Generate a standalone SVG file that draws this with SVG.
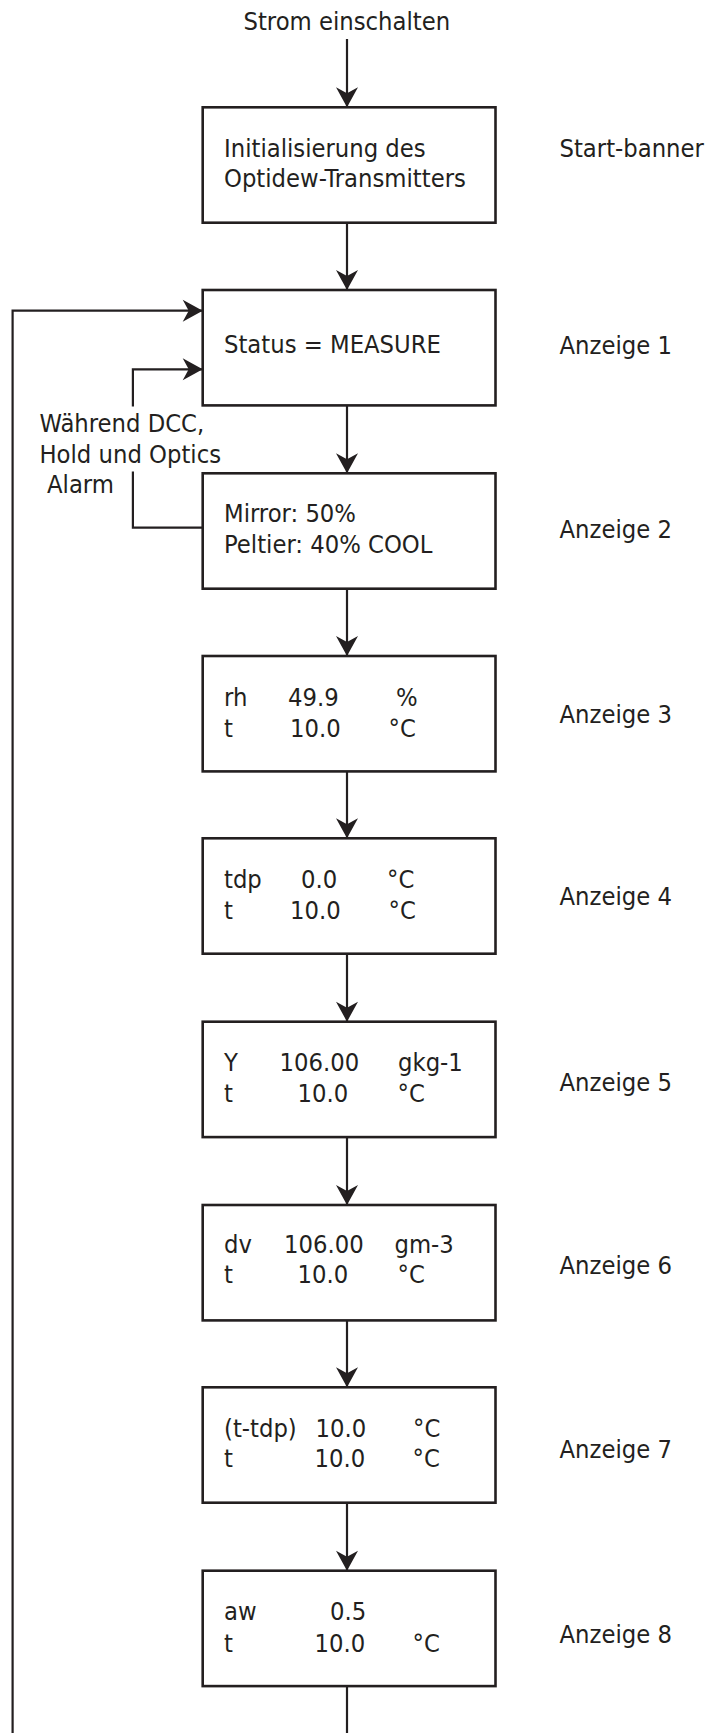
<svg xmlns="http://www.w3.org/2000/svg" width="707" height="1733" viewBox="0 0 707 1733">
<style>
text{font-family:'DejaVu Sans Condensed','DejaVu Sans',sans-serif;font-stretch:condensed;font-size:25.3px;fill:#231f20}
.box{fill:#fff;stroke:#231f20;stroke-width:2.6}
.ln{fill:none;stroke:#231f20;stroke-width:2.2}
</style>
<defs>
<marker id="ah" viewBox="-21 -12 22 24" markerWidth="22" markerHeight="24" refX="0" refY="0" orient="auto" markerUnits="userSpaceOnUse">
<path d="M0,0 L-20,-11 L-14,0 L-20,11 Z" fill="#231f20"/>
</marker>
</defs>
<g id="connectors">
<line class="ln" x1="347" y1="39" x2="347" y2="107.3" marker-end="url(#ah)"/>
<line class="ln" x1="347" y1="222.7" x2="347" y2="290" marker-end="url(#ah)"/>
<line class="ln" x1="347" y1="405.4" x2="347" y2="473.3" marker-end="url(#ah)"/>
<line class="ln" x1="347" y1="588.7" x2="347" y2="656" marker-end="url(#ah)"/>
<line class="ln" x1="347" y1="771.4" x2="347" y2="838.3" marker-end="url(#ah)"/>
<line class="ln" x1="347" y1="953.7" x2="347" y2="1021.7" marker-end="url(#ah)"/>
<line class="ln" x1="347" y1="1137.1" x2="347" y2="1205" marker-end="url(#ah)"/>
<line class="ln" x1="347" y1="1320.4" x2="347" y2="1387.3" marker-end="url(#ah)"/>
<line class="ln" x1="347" y1="1502.7" x2="347" y2="1570.7" marker-end="url(#ah)"/>
<line class="ln" x1="347" y1="1686.1" x2="347" y2="1733"/>
<polyline class="ln" points="12.6,1733 12.6,310.7 202.7,310.7" marker-end="url(#ah)"/>
<polyline class="ln" points="202.7,527.7 132.9,527.7 132.9,471.5"/>
<polyline class="ln" points="132.9,406.5 132.9,369.3 202.7,369.3" marker-end="url(#ah)"/>
</g>
<g id="start"><text x="243.5" y="30">Strom einschalten</text></g>
<g id="n0"><rect class="box" x="202.7" y="107.3" width="292.8" height="115.4"/><text x="224" y="156.7">Initialisierung des</text><text x="224" y="186.7">Optidew-Transmitters</text><text x="559.5" y="157">Start-banner</text></g>
<g id="n1"><rect class="box" x="202.7" y="290" width="292.8" height="115.4"/><text x="224" y="353.3">Status = MEASURE</text><text x="559.5" y="354">Anzeige 1</text></g>
<g id="note"><text x="39.5" y="431.7">Während DCC,</text><text x="39.5" y="462.7">Hold und Optics</text><text x="47" y="493.3">Alarm</text></g>
<g id="n2"><rect class="box" x="202.7" y="473.3" width="292.8" height="115.4"/><text x="224" y="521.7">Mirror: 50%</text><text x="224" y="552.7">Peltier: 40% COOL</text><text x="559.5" y="538.3">Anzeige 2</text></g>
<g id="n3"><rect class="box" x="202.7" y="656" width="292.8" height="115.4"/><text x="224" y="706">rh</text><text x="288" y="706">49.9</text><text x="396" y="706">%</text><text x="224" y="736.7">t</text><text x="290" y="736.7">10.0</text><text x="388.5" y="736.7">°C</text><text x="559.5" y="722.7">Anzeige 3</text></g>
<g id="n4"><rect class="box" x="202.7" y="838.3" width="292.8" height="115.4"/><text x="224" y="888.3">tdp</text><text x="301" y="888.3">0.0</text><text x="387" y="888.3">°C</text><text x="224" y="919">t</text><text x="290" y="919">10.0</text><text x="388.5" y="919">°C</text><text x="559.5" y="905">Anzeige 4</text></g>
<g id="n5"><rect class="box" x="202.7" y="1021.7" width="292.8" height="115.4"/><text x="224" y="1071">Y</text><text x="279.5" y="1071">106.00</text><text x="398" y="1071">gkg-1</text><text x="224" y="1101.7">t</text><text x="297.5" y="1101.7">10.0</text><text x="397.5" y="1101.7">°C</text><text x="559.5" y="1090.7">Anzeige 5</text></g>
<g id="n6"><rect class="box" x="202.7" y="1205" width="292.8" height="115.4"/><text x="224" y="1253.3">dv</text><text x="284" y="1253.3">106.00</text><text x="394.5" y="1253.3">gm-3</text><text x="224" y="1283.3">t</text><text x="297.5" y="1283.3">10.0</text><text x="397.5" y="1283.3">°C</text><text x="559.5" y="1274.3">Anzeige 6</text></g>
<g id="n7"><rect class="box" x="202.7" y="1387.3" width="292.8" height="115.4"/><text x="224" y="1436.7">(t-tdp)</text><text x="315.5" y="1436.7">10.0</text><text x="413" y="1436.7">°C</text><text x="224" y="1467.3">t</text><text x="314.5" y="1467.3">10.0</text><text x="412.5" y="1467.3">°C</text><text x="559.5" y="1458.3">Anzeige 7</text></g>
<g id="n8"><rect class="box" x="202.7" y="1570.7" width="292.8" height="115.4"/><text x="224" y="1620">aw</text><text x="330" y="1620">0.5</text><text x="224" y="1651.7">t</text><text x="314.5" y="1651.7">10.0</text><text x="412.5" y="1651.7">°C</text><text x="559.5" y="1643.4">Anzeige 8</text></g>
</svg>
